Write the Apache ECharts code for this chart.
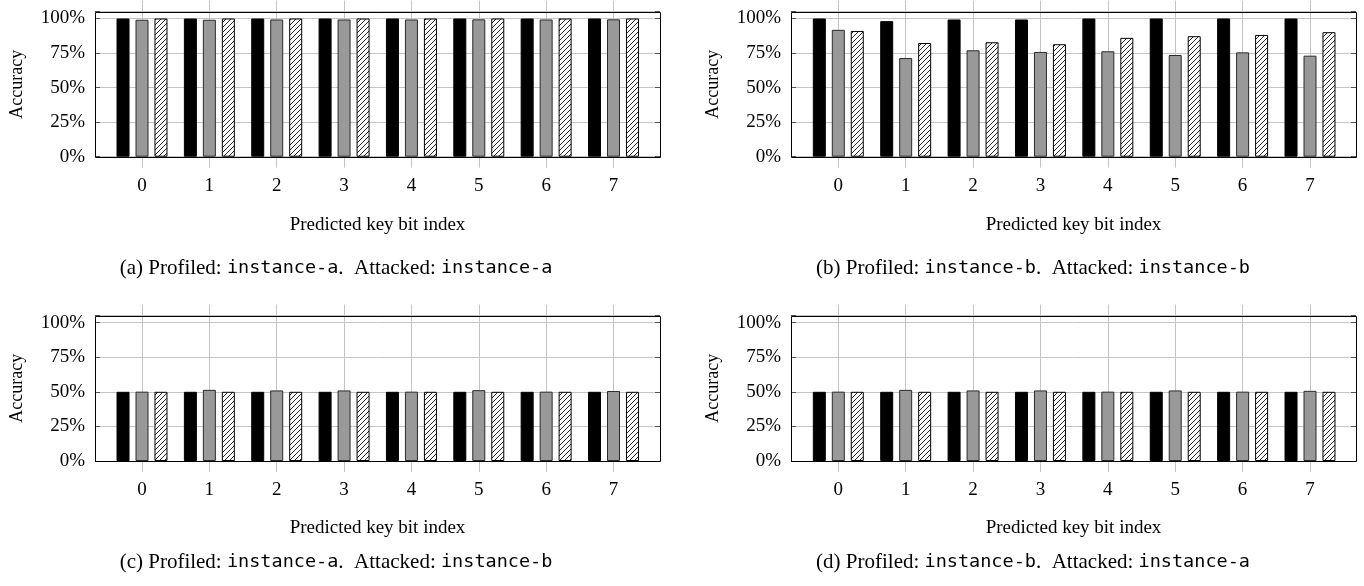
<!DOCTYPE html>
<html><head><meta charset="utf-8">
<script src="https://cdn.jsdelivr.net/npm/echarts@6/dist/echarts.min.js"></script>
<style>html,body{margin:0;padding:0;background:#fff}#c{width:1364px;height:586px}</style>
</head><body><div id="c"></div>
<script>
// ---------- data ----------
const categories = ['0', '1', '2', '3', '4', '5', '6', '7'];
const yTickValues = [0, 25, 50, 75, 100];
const seriesNames = ['Series 1', 'Series 2', 'Series 3'];

const aBlack = [100, 100, 100, 100, 100, 100, 100, 100];
const aGray  = [99.1, 99.1, 99.3, 99.3, 99.3, 99.4, 99.3, 99.4];
const aHatch = [100, 100, 100, 100, 100, 100, 100, 100];

const bBlack = [100, 98.1, 99.3, 99.3, 100, 100, 100, 100];
const bGray  = [91.8, 71.4, 77.0, 75.8, 76.3, 73.6, 75.5, 73.1];
const bHatch = [91.0, 82.3, 82.8, 81.4, 86.0, 87.2, 88.1, 90.1];

const cBlack = [50, 50, 50, 50, 50, 50, 50, 50];
const cGray  = [50.1, 51.4, 51.0, 51.0, 50.1, 51.2, 50.1, 50.6];
const cHatch = [50, 50, 50, 50, 50, 50, 50, 50];

const dBlack = [50, 50, 50, 50, 50, 50, 50, 50];
const dGray  = [50.1, 51.4, 51.0, 51.0, 50.1, 51.0, 50.1, 50.7];
const dHatch = [50, 50, 50, 50, 50, 50, 50, 50];

const xAxisTitle = 'Predicted key bit index';
const yAxisTitle = 'Accuracy';
const captionLetters = ['(a)', '(b)', '(c)', '(d)'];
const profiled = ['instance-a', 'instance-b', 'instance-a', 'instance-b'];
const attacked = ['instance-a', 'instance-b', 'instance-b', 'instance-a'];

// ---------- layout ----------
const Y_MAX = 105;
const EXT = 11;
const layout = [
  { fl: 95,  fr: 660,  ft: 11.6,  fb: 156.7, c0: 142,   c7: 613.5, capX: 336,  capY: 268, nameY: 225, accX: 17 },
  { fl: 791, fr: 1356, ft: 11.6,  fb: 156.7, c0: 838.3, c7: 1310,  capX: 1033, capY: 268, nameY: 225, accX: 713 },
  { fl: 95,  fr: 660,  ft: 315.7, fb: 461,   c0: 142,   c7: 613.5, capX: 336,  capY: 562, nameY: 528, accX: 17 },
  { fl: 791, fr: 1356, ft: 315.7, fb: 461,   c0: 838.3, c7: 1310,  capX: 1033, capY: 562, nameY: 528, accX: 713 }
];
const panelData = [
  [aBlack, aGray, aHatch],
  [bBlack, bGray, bHatch],
  [cBlack, cGray, cHatch],
  [dBlack, dGray, dHatch]
];

const SERIF = 'Liberation Serif';
const MONO = 'DejaVu Sans Mono';

function makeHatch() {
  const s = 5;
  const cv = document.createElement('canvas');
  cv.width = s; cv.height = s;
  const ctx = cv.getContext('2d');
  ctx.fillStyle = '#fff'; ctx.fillRect(0, 0, s, s);
  ctx.strokeStyle = '#000'; ctx.lineWidth = 0.85;
  ctx.beginPath();
  ctx.moveTo(-1, s + 1); ctx.lineTo(s + 1, -1);
  ctx.moveTo(-1, 1); ctx.lineTo(1, -1);
  ctx.moveTo(s - 1, s + 1); ctx.lineTo(s + 1, s - 1);
  ctx.stroke();
  return cv;
}
const hatchPattern = { image: makeHatch(), repeat: 'repeat' };

const styles = [
  { color: '#000000', borderColor: '#000000', borderWidth: 1 },
  { color: '#999999', borderColor: '#2a2a2a', borderWidth: 1 },
  { color: hatchPattern, borderColor: '#000000', borderWidth: 1 }
];

const grid = [], xAxis = [], yAxis = [], series = [], graphic = [];

layout.forEach((L, p) => {
  const H = L.fb - L.ft;
  const unit = H / Y_MAX;
  grid.push({ left: L.fl, top: L.ft, width: L.fr - L.fl, height: H, show: false,
    containLabel: false, outerBoundsMode: 'none' });
  grid.push({ left: L.c0, top: L.ft - EXT, width: L.c7 - L.c0, height: H + 2 * EXT,
    show: false, containLabel: false, outerBoundsMode: 'none' });
  const gF = 2 * p, gB = 2 * p + 1;
  xAxis.push({ type: 'value', gridIndex: gF, min: 0, max: 1, show: false });
  xAxis.push({ type: 'category', gridIndex: gB, data: categories, boundaryGap: false,
    axisLine: { show: false }, axisTick: { show: false },
    axisLabel: { show: true, color: '#000', fontFamily: SERIF, fontSize: 19, margin: 9, interval: 0 },
    splitLine: { show: true, interval: 0, lineStyle: { color: '#c4c4c4', width: 1 } } });
  yAxis.push({ type: 'value', gridIndex: gF, position: 'left', min: 0, max: Y_MAX, interval: 25,
    axisLine: { show: false },
    axisTick: { show: true, inside: true, length: 5, lineStyle: { color: '#555' } },
    axisLabel: { color: '#000', fontFamily: SERIF, fontSize: 19, margin: 10,
      formatter: v => (yTickValues.indexOf(v) >= 0 ? v + '%' : '') },
    splitLine: { show: true, lineStyle: { color: '#c4c4c4', width: 1 } } });
  yAxis.push({ type: 'value', gridIndex: gF, position: 'right', min: 0, max: Y_MAX, interval: 25,
    axisLine: { show: false },
    axisTick: { show: true, inside: true, length: 5, lineStyle: { color: '#555' } },
    axisLabel: { show: false }, splitLine: { show: false } });
  yAxis.push({ type: 'value', gridIndex: gB, min: -EXT / unit, max: Y_MAX + EXT / unit, show: false,
    splitLine: { show: false } });
  panelData[p].forEach((vals, k) => {
    series.push({ type: 'bar', name: seriesNames[k], xAxisIndex: 2 * p + 1, yAxisIndex: 3 * p + 2,
      data: vals, barWidth: 13, barGap: '46%', clip: false, z: 3,
      itemStyle: styles[k], emphasis: { disabled: true }, silent: true });
  });
  graphic.push({ type: 'rect', z: 100, silent: true,
    shape: { x: Math.round(L.fl) + 0.5, y: Math.round(L.ft) + 0.5, width: Math.round(L.fr - L.fl), height: Math.round(L.fb) - Math.round(L.ft) },
    style: { fill: null, stroke: '#000', lineWidth: 1 } });
  graphic.push({ type: 'text', x: L.accX, y: (L.ft + L.fb) / 2, rotation: Math.PI / 2,
    style: { text: yAxisTitle, font: '18px "' + SERIF + '"', fill: '#000', align: 'center', verticalAlign: 'middle' } });
  graphic.push({ type: 'text', x: (L.fl + L.fr) / 2, y: L.nameY,
    style: { text: xAxisTitle, font: '19px "' + SERIF + '"', fill: '#000', align: 'center', verticalAlign: 'middle' } });
  graphic.push({ type: 'text', x: L.capX, y: L.capY,
    style: { text: '{s|' + captionLetters[p] + ' Profiled: }{m|' + profiled[p] + '}{s|.  Attacked: }{m|' + attacked[p] + '}',
      align: 'center', verticalAlign: 'middle', fill: '#000',
      rich: { s: { fontFamily: SERIF, fontSize: 21, fill: '#000' },
              m: { fontFamily: MONO, fontSize: 18.5, fill: '#000' } } } });
});

const chart = echarts.init(document.getElementById('c'), null, { renderer: 'canvas', width: 1364, height: 586 });
chart.setOption({ animation: false, backgroundColor: '#fff', grid, xAxis, yAxis, series, graphic,
  tooltip: { show: false }, legend: { show: false } });
</script>
</body></html>
